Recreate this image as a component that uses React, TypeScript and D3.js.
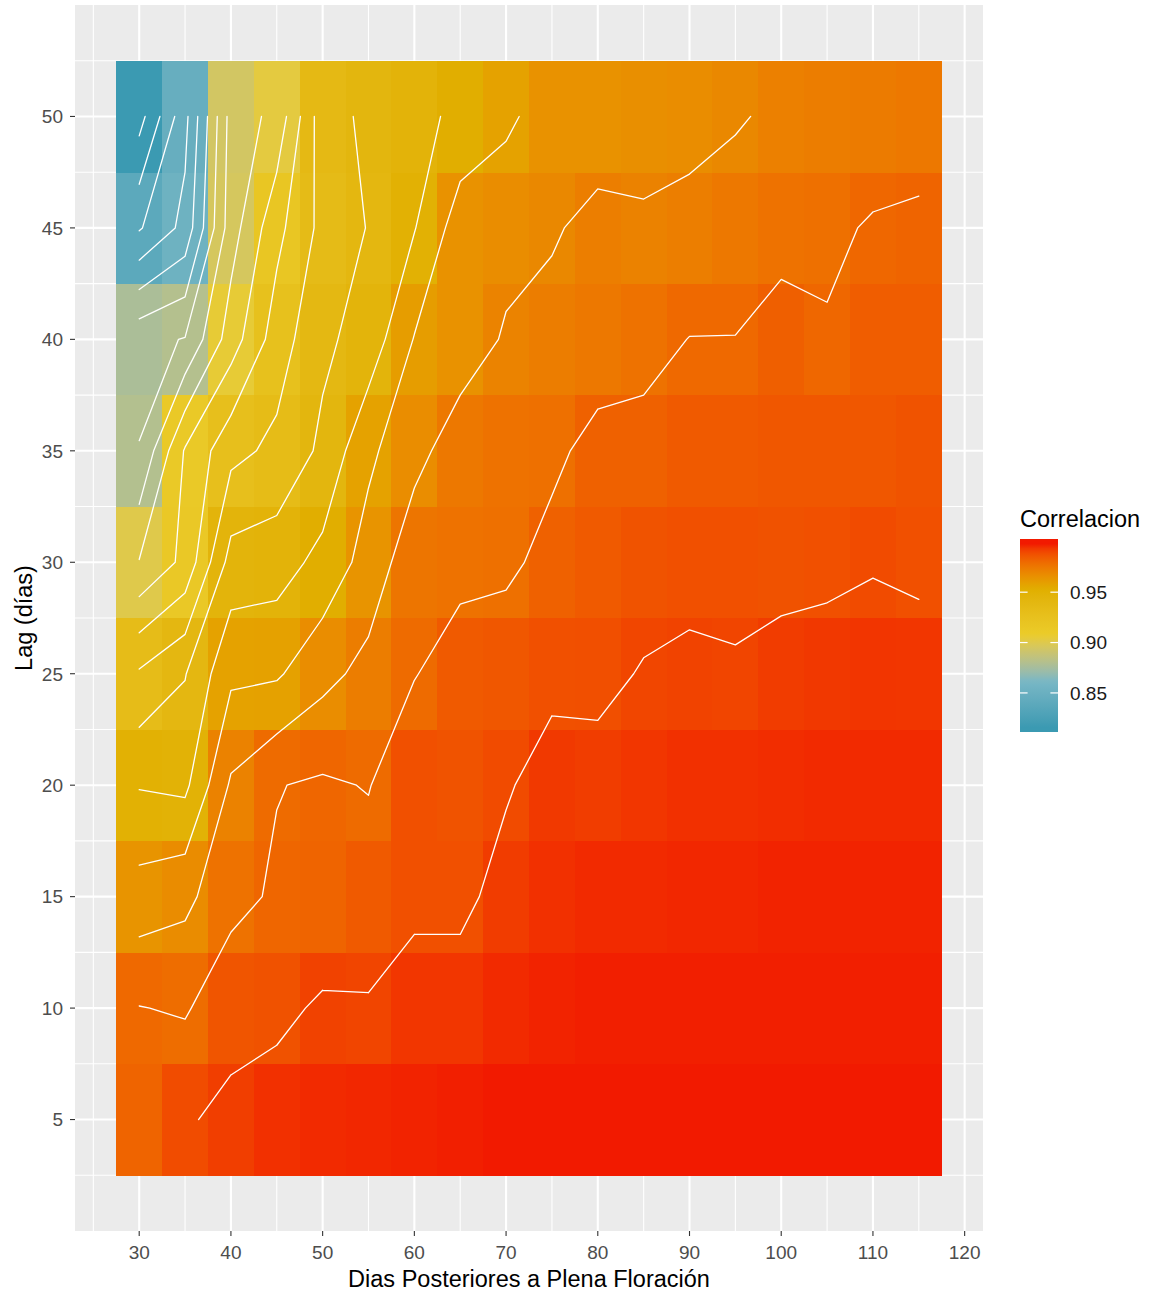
import React from "react";
import * as d3 from "d3";

// ---- Data ----
const diasPosteriores = [30, 35, 40, 45, 50, 55, 60, 65, 70, 75, 80, 85, 90, 95, 100, 105, 110, 115];
const lagDias = [5, 10, 15, 20, 25, 30, 35, 40, 45, 50];

const lag05 = [0.982, 0.989, 0.9924, 0.995, 0.996, 0.9965, 0.997, 0.9975, 0.998, 0.998, 0.998, 0.998, 0.998, 0.998, 0.998, 0.998, 0.998, 0.998];
const lag10 = [0.9803, 0.979, 0.9864, 0.9875, 0.9915, 0.9908, 0.9939, 0.9939, 0.996, 0.997, 0.9975, 0.9975, 0.9975, 0.9975, 0.9975, 0.9975, 0.9975, 0.9975];
const lag15 = [0.9642, 0.9675, 0.977, 0.9814, 0.9821, 0.985, 0.988, 0.988, 0.9928, 0.995, 0.996, 0.996, 0.9965, 0.9965, 0.997, 0.997, 0.997, 0.997];
const lag20 = [0.9494, 0.9478, 0.9714, 0.9796, 0.9814, 0.9795, 0.988, 0.987, 0.9892, 0.9933, 0.9925, 0.994, 0.995, 0.995, 0.9955, 0.996, 0.996, 0.996];
const lag25 = [0.9313, 0.9395, 0.958, 0.9587, 0.967, 0.973, 0.9795, 0.985, 0.986, 0.988, 0.9882, 0.9905, 0.9913, 0.9907, 0.9927, 0.9935, 0.9942, 0.994];
const lag30 = [0.9005, 0.9126, 0.944, 0.9455, 0.953, 0.964, 0.976, 0.977, 0.978, 0.983, 0.985, 0.987, 0.988, 0.988, 0.9875, 0.988, 0.9893, 0.988];
const lag35 = [0.8803, 0.911, 0.927, 0.9324, 0.942, 0.958, 0.967, 0.975, 0.977, 0.978, 0.983, 0.983, 0.985, 0.985, 0.986, 0.986, 0.986, 0.987];
const lag40 = [0.877, 0.8805, 0.905, 0.925, 0.938, 0.944, 0.9605, 0.965, 0.971, 0.973, 0.975, 0.977, 0.9802, 0.9802, 0.9835, 0.981, 0.984, 0.984];
const lag45 = [0.839, 0.853, 0.8955, 0.917, 0.933, 0.9405, 0.9495, 0.965, 0.967, 0.969, 0.9727, 0.9714, 0.9728, 0.975, 0.977, 0.978, 0.981, 0.982];
const lag50 = [0.816, 0.847, 0.894, 0.903, 0.936, 0.942, 0.946, 0.953, 0.958, 0.965, 0.965, 0.966, 0.967, 0.969, 0.972, 0.973, 0.974, 0.975];
const corrRows = [lag05, lag10, lag15, lag20, lag25, lag30, lag35, lag40, lag45, lag50];

const xBreaks = [30, 40, 50, 60, 70, 80, 90, 100, 110, 120];
const xMinor = [25, 35, 45, 55, 65, 75, 85, 95, 105, 115];
const yBreaks = [5, 10, 15, 20, 25, 30, 35, 40, 45, 50];
const yMinor = [2.5, 7.5, 12.5, 17.5, 22.5, 27.5, 32.5, 37.5, 42.5, 47.5, 52.5];
const legendBreaks = [0.85, 0.9, 0.95];
const legendLabels = ["0.85", "0.90", "0.95"];
const zissou = ["#3B9AB2", "#78B7C5", "#EBCC2A", "#E1AF00", "#F21A00"];
const contourLevels = d3.range(82, 100).map((k) => k / 100);

const FONT = "'Liberation Sans', Arial, Helvetica, sans-serif";

function isolineSegments(level: number) {
  const segs: [number, number, number, number][] = [];
  const nx = diasPosteriores.length;
  const ny = lagDias.length;
  for (let j = 0; j < ny - 1; j++) {
    for (let i = 0; i < nx - 1; i++) {
      const x0 = diasPosteriores[i], x1 = diasPosteriores[i + 1];
      const y0 = lagDias[j], y1 = lagDias[j + 1];
      const a = corrRows[j][i], b = corrRows[j][i + 1];
      const c = corrRows[j + 1][i + 1], d = corrRows[j + 1][i];
      const sa = a >= level, sb = b >= level, sc = c >= level, sd = d >= level;
      const B = sa !== sb ? [x0 + ((level - a) / (b - a)) * (x1 - x0), y0] : null;
      const R = sb !== sc ? [x1, y0 + ((level - b) / (c - b)) * (y1 - y0)] : null;
      const T = sd !== sc ? [x0 + ((level - d) / (c - d)) * (x1 - x0), y1] : null;
      const L = sa !== sd ? [x0, y0 + ((level - a) / (d - a)) * (y1 - y0)] : null;
      const pts = [B, R, T, L].filter(Boolean) as number[][];
      if (pts.length === 2) {
        segs.push([pts[0][0], pts[0][1], pts[1][0], pts[1][1]]);
      } else if (pts.length === 4) {
        const center = (a + b + c + d) / 4 >= level;
        if (center === sa) {
          segs.push([B![0], B![1], R![0], R![1]]);
          segs.push([T![0], T![1], L![0], L![1]]);
        } else {
          segs.push([B![0], B![1], L![0], L![1]]);
          segs.push([R![0], R![1], T![0], T![1]]);
        }
      }
    }
  }
  return segs;
}

export default function App() {
  const W = 1163, H = 1294;
  const pl = 75, pr = 983, pt = 5, pb = 1231;
  const x = d3.scaleLinear().domain([23, 122]).range([pl, pr]);
  const y = d3.scaleLinear().domain([0, 55]).range([pb, pt]);

  const all = corrRows.flat();
  const minV = d3.min(all) as number;
  const maxV = d3.max(all) as number;
  const color = d3
    .scaleLinear<string>()
    .domain(d3.range(5).map((k) => minV + (k * (maxV - minV)) / 4))
    .range(zissou)
    .interpolate(d3.interpolateLab);

  const tiles: React.ReactNode[] = [];
  corrRows.forEach((row, j) => {
    row.forEach((v, i) => {
      const xv = diasPosteriores[i];
      const yv = lagDias[j];
      const rx = x(xv - 2.5), rx2 = x(xv + 2.5);
      const ry = y(yv + 2.5), ry2 = y(yv - 2.5);
      tiles.push(
        <rect key={`t${i}-${j}`} x={rx} y={ry} width={rx2 - rx + 0.4} height={ry2 - ry + 0.4} fill={color(v)} />
      );
    });
  });

  const contourPaths = contourLevels.map((lv) => {
    const segs = isolineSegments(lv);
    const dStr = segs.map((s) => `M${x(s[0]).toFixed(2)},${y(s[1]).toFixed(2)}L${x(s[2]).toFixed(2)},${y(s[3]).toFixed(2)}`).join("");
    return <path key={`c${lv}`} d={dStr} fill="none" stroke="#ffffff" strokeWidth={1.3} strokeLinecap="round" />;
  });

  // legend
  const barX = 1020, barW = 38, barTop = 539, barH = 193;
  const ly = d3.scaleLinear().domain([minV, maxV]).range([barTop + barH - barH / 40, barTop + barH / 40]);
  const nStops = 40;
  const gradStops = d3.range(nStops).map((k) => {
    const t = k / (nStops - 1);
    const v = minV + t * (maxV - minV);
    return <stop key={k} offset={`${(2.5 + t * 95).toFixed(3)}%`} stopColor={color(v)} />;
  });

  return (
    <div style={{ position: "absolute", left: 0, top: 0, width: W, height: H, background: "#fff" }}>
      <svg width={W} height={H} viewBox={`0 0 ${W} ${H}`} style={{ display: "block" }}>
        <defs>
          <linearGradient id="corrGrad" x1="0" y1="1" x2="0" y2="0">
            {gradStops}
          </linearGradient>
          <clipPath id="panelClip">
            <rect x={pl} y={pt} width={pr - pl} height={pb - pt} />
          </clipPath>
        </defs>
        <rect x={0} y={0} width={W} height={H} fill="#ffffff" />
        <rect x={pl} y={pt} width={pr - pl} height={pb - pt} fill="#EBEBEB" />
        {xMinor.map((v) => (
          <line key={`xm${v}`} x1={x(v)} x2={x(v)} y1={pt} y2={pb} stroke="#fff" strokeWidth={1.1} />
        ))}
        {yMinor.map((v) => (
          <line key={`ym${v}`} x1={pl} x2={pr} y1={y(v)} y2={y(v)} stroke="#fff" strokeWidth={1.1} />
        ))}
        {xBreaks.map((v) => (
          <line key={`xM${v}`} x1={x(v)} x2={x(v)} y1={pt} y2={pb} stroke="#fff" strokeWidth={2.1} />
        ))}
        {yBreaks.map((v) => (
          <line key={`yM${v}`} x1={pl} x2={pr} y1={y(v)} y2={y(v)} stroke="#fff" strokeWidth={2.1} />
        ))}
        <g clipPath="url(#panelClip)" shapeRendering="crispEdges">{tiles}</g>
        <g clipPath="url(#panelClip)">{contourPaths}</g>

        {/* axes ticks */}
        {xBreaks.map((v) => (
          <g key={`xt${v}`}>
            <line x1={x(v)} x2={x(v)} y1={pb} y2={pb + 5} stroke="#333333" strokeWidth={1.1} />
            <text x={x(v)} y={pb + 28} textAnchor="middle" fontFamily={FONT} fontSize={19} fill="#4D4D4D">
              {v}
            </text>
          </g>
        ))}
        {yBreaks.map((v) => (
          <g key={`yt${v}`}>
            <line x1={pl - 5} x2={pl} y1={y(v)} y2={y(v)} stroke="#333333" strokeWidth={1.1} />
            <text x={pl - 12} y={y(v) + 6.8} textAnchor="end" fontFamily={FONT} fontSize={19} fill="#4D4D4D">
              {v}
            </text>
          </g>
        ))}
        <text x={(pl + pr) / 2} y={1287} textAnchor="middle" fontFamily={FONT} fontSize={23.5} fill="#000">
          Dias Posteriores a Plena Floración
        </text>
        <text
          transform={`translate(32,${(pt + pb) / 2}) rotate(-90)`}
          textAnchor="middle"
          fontFamily={FONT}
          fontSize={23.5}
          fill="#000"
        >
          Lag (días)
        </text>

        {/* legend */}
        <text x={barX} y={527} fontFamily={FONT} fontSize={23.5} fill="#000">
          Correlacion
        </text>
        <rect x={barX} y={barTop} width={barW} height={barH} fill="url(#corrGrad)" />
        {legendBreaks.map((v, k) => (
          <g key={`lb${v}`}>
            <line x1={barX} x2={barX + barW / 5} y1={ly(v)} y2={ly(v)} stroke="#fff" strokeWidth={1.2} />
            <line x1={barX + (barW * 4) / 5} x2={barX + barW} y1={ly(v)} y2={ly(v)} stroke="#fff" strokeWidth={1.2} />
            <text x={barX + barW + 12} y={ly(v) + 6.8} fontFamily={FONT} fontSize={19} fill="#1a1a1a">
              {legendLabels[k]}
            </text>
          </g>
        ))}
      </svg>
    </div>
  );
}
